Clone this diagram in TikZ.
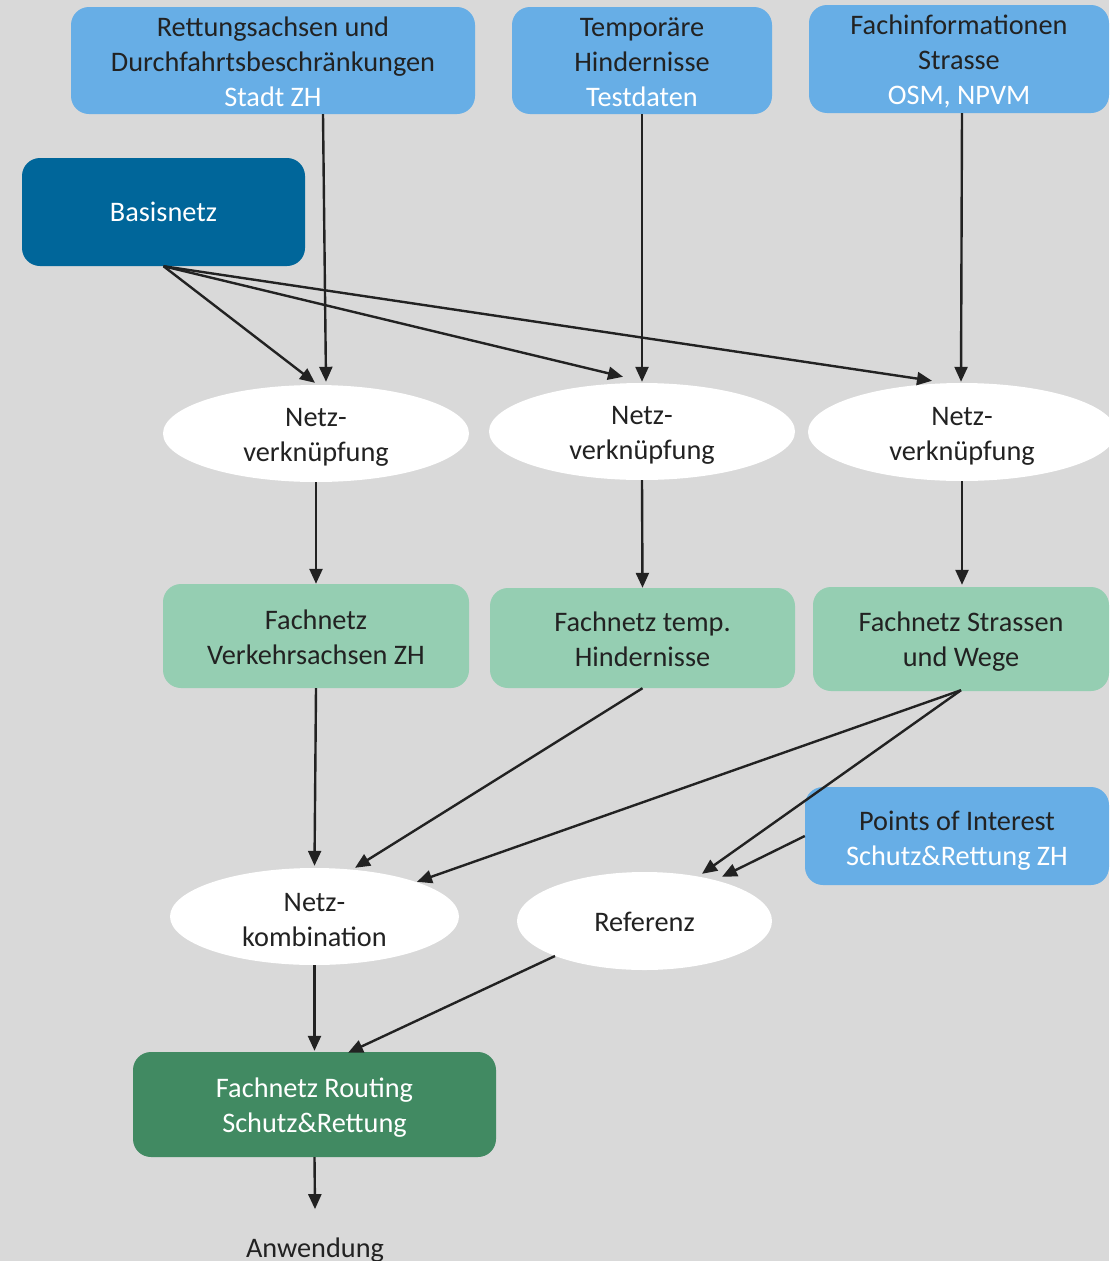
\documentclass[tikz,border=0pt]{standalone}
\usepackage{fontspec}
\setmainfont{Carlito}
\usetikzlibrary{shapes.geometric,arrows.meta}

\definecolor{bgc}{HTML}{D9D9D9}
\definecolor{ink}{HTML}{222222}
\definecolor{srcblue}{HTML}{67AEE6}
\definecolor{baseblue}{HTML}{00669A}
\definecolor{netgreen}{HTML}{95CEB2}
\definecolor{routegreen}{HTML}{418A62}

\begin{document}
\begin{tikzpicture}[x=1pt,y=-1pt,
  every node/.style={font=\fontsize{28.3}{35}\selectfont, text=ink, align=center, inner sep=0pt},
  srcbox/.style={fill=srcblue, rounded corners=18pt},
  basebox/.style={fill=baseblue, rounded corners=18pt, text=white},
  netbox/.style={fill=netgreen, rounded corners=18pt},
  routebox/.style={fill=routegreen, rounded corners=18pt},
  linkoval/.style={ellipse, fill=white},
  flow/.style={draw=ink, line width=2.4pt, -{Triangle[length=15pt,width=13pt]}}]

% canvas
\useasboundingbox (0,0) rectangle (1109,1261);
\fill[bgc] (0,0) rectangle (1109,1261);
\clip (0,0) rectangle (1109,1261);

% data sources
\node[srcbox, minimum width=404pt, minimum height=107pt,
  label={[yshift=-1pt]center:{Rettungsachsen und\\Durchfahrtsbeschränkungen\\\textcolor{white}{Stadt ZH}}}]
  (rett) at (273,60.5) {};
\node[srcbox, minimum width=260pt, minimum height=107pt,
  label={[yshift=-1.5pt]center:{Temporäre\\Hindernisse\\\textcolor{white}{Testdaten}}}]
  (temp) at (642,60.5) {};
\node[srcbox, minimum width=300pt, minimum height=108pt,
  label={[yshift=-2.5pt]center:{Fachinformationen\\Strasse\\\textcolor{white}{OSM, NPVM}}}]
  (fach) at (959,59) {};
\node[basebox, minimum width=283pt, minimum height=108pt] (basis) at (163.5,212) {Basisnetz};

% linking steps
\node[linkoval, minimum width=306pt, minimum height=97pt,
  label={[yshift=-4pt]center:{Netz-\\verknüpfung}}] (vk1) at (316,433.5) {};
\node[linkoval, minimum width=306pt, minimum height=97pt,
  label={[yshift=-4pt]center:{Netz-\\verknüpfung}}] (vk2) at (642,431.5) {};
\node[linkoval, minimum width=308pt, minimum height=98pt,
  label={[yshift=-4pt]center:{Netz-\\verknüpfung}}] (vk3) at (962,432) {};

% thematic networks
\node[netbox, minimum width=306pt, minimum height=104pt,
  label={[yshift=-1.5pt]center:{Fachnetz\\Verkehrsachsen ZH}}] (fn1) at (316,636) {};
\node[netbox, minimum width=305pt, minimum height=100pt,
  label={[yshift=-1pt]center:{Fachnetz temp.\\Hindernisse}}] (fn2) at (642.5,638) {};
\node[netbox, minimum width=296pt, minimum height=104pt,
  label={[yshift=-3pt]center:{Fachnetz Strassen\\und Wege}}] (fn3) at (961,639) {};

% combination and referencing
\node[linkoval, minimum width=289pt, minimum height=97pt,
  label={[yshift=-3.5pt]center:{Netz-\\kombination}}] (nk) at (314.5,916.5) {};
\node[linkoval, minimum width=255pt, minimum height=98pt,
  label={[yshift=-1pt]center:Referenz}] (ref) at (644.5,921) {};
\node[srcbox, minimum width=304pt, minimum height=98pt,
  label={[yshift=-4.5pt]center:{Points of Interest\\\textcolor{white}{Schutz\&Rettung ZH}}}]
  (poi) at (957,836) {};

% result
\node[routebox, minimum width=363pt, minimum height=105pt,
  label={[yshift=-3pt, text=white]center:{Fachnetz Routing\\Schutz\&Rettung}}]
  (route) at (314.5,1104.5) {};
\node[anchor=base] (anw) at (315,1257) {Anwendung};

% connectors
\draw[flow] ([xshift=50pt]rett.south) -- ([xshift=10pt,yshift=3pt]vk1.north);
\draw[flow] (temp.south) -- ([yshift=1pt]vk2.north);
\draw[flow] ([xshift=3pt]fach.south) -- ([xshift=-1pt,yshift=1pt]vk3.north);
\draw[flow] (basis.south) -- ([xshift=-1pt,yshift=2pt]vk1.north);
\draw[flow] (basis.south) -- ([xshift=-19pt,yshift=6pt]vk2.north);
\draw[flow] (basis.south) -- ([xshift=-30pt,yshift=2pt]vk3.north);

\draw[flow] (vk1.south) -- (fn1.north);
\draw[flow] (vk2.south) -- (fn2.north);
\draw[flow] (vk3.south) -- ([xshift=1pt,yshift=2pt]fn3.north);

\draw[flow] (fn1.south) -- ([yshift=2pt]nk.north);
\draw[flow] (fn2.south) -- ([xshift=40.5pt]nk.north);
\draw[flow] ([yshift=1pt]fn3.south) -- ([xshift=102.5pt,yshift=-14pt]nk.north);
\draw[flow] ([yshift=1pt]fn3.south) -- ([xshift=57.5pt,yshift=-2pt]ref.north);
\draw[flow] (poi.west) -- ([xshift=77.5pt,yshift=-5pt]ref.north);

\draw[flow] (nk.south) -- ([yshift=1pt]route.north);
\draw[flow] ([xshift=-89.5pt,yshift=-35pt]ref.center) -- ([xshift=33.5pt,yshift=-1pt]route.north);
\draw[flow] (route.south) -- ([yshift=28pt]anw.north);
\end{tikzpicture}
\end{document}
